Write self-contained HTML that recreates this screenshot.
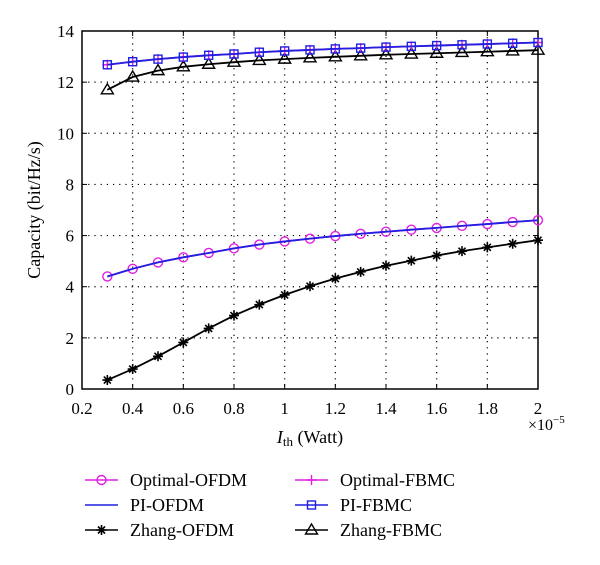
<!DOCTYPE html>
<html><head><meta charset="utf-8"><style>
body{margin:0;background:#fff;}
svg{display:block;font-family:"Liberation Serif",serif;}
</style></head><body>
<svg id="c" width="600" height="565" xmlns="http://www.w3.org/2000/svg"></svg>
<script>
const xVals=[0.3,0.4,0.5,0.6,0.7,0.8,0.9,1.0,1.1,1.2,1.3,1.4,1.5,1.6,1.7,1.8,1.9,2.0];
const optOFDM=[4.4,4.7,4.95,5.15,5.32,5.5,5.65,5.77,5.88,5.98,6.07,6.15,6.23,6.3,6.38,6.45,6.53,6.6];
const piOFDM=[4.4,4.7,4.95,5.15,5.32,5.5,5.65,5.77,5.88,5.98,6.07,6.15,6.23,6.3,6.38,6.45,6.53,6.6];
const zhangOFDM=[0.35,0.78,1.28,1.82,2.37,2.87,3.3,3.68,4.02,4.32,4.58,4.82,5.02,5.22,5.39,5.54,5.68,5.82];
const optFBMC=[12.68,12.8,12.9,12.98,13.05,13.1,13.17,13.22,13.26,13.3,13.33,13.37,13.4,13.43,13.46,13.49,13.52,13.55];
const piFBMC=[12.68,12.8,12.9,12.98,13.05,13.1,13.17,13.22,13.26,13.3,13.33,13.37,13.4,13.43,13.46,13.49,13.52,13.55];
const zhangFBMC=[11.7,12.2,12.45,12.6,12.7,12.78,12.85,12.9,12.95,12.99,13.03,13.07,13.1,13.13,13.16,13.19,13.22,13.25];
const xTicks=[0.2,0.4,0.6,0.8,1,1.2,1.4,1.6,1.8,2];
const yTicks=[0,2,4,6,8,10,12,14];

const svg=document.getElementById('c');
const NS='http://www.w3.org/2000/svg';
const L=82,R=538,T=31,B=389;
const sx=v=>L+(v-0.2)/1.8*(R-L);
const sy=v=>B-v/14*(B-T);
function mk(tag,a,parent){const e=document.createElementNS(NS,tag);for(const k in a)e.setAttribute(k,a[k]);(parent||svg).appendChild(e);return e;}

xTicks.forEach(t=>{if(t>0.2&&t<2){const g=mk('line',{x1:sx(t),x2:sx(t),y1:T,y2:B,stroke:'#000','stroke-width':1.2,'stroke-dasharray':'1.2,5'});

}});
yTicks.forEach(t=>{if(t>0&&t<14){const g=mk('line',{x1:L,x2:R,y1:sy(t),y2:sy(t),stroke:'#000','stroke-width':1.2,'stroke-dasharray':'1.2,5'});

}});
const frame=mk('rect',{x:L,y:T,width:R-L,height:B-T,fill:'none',stroke:'#000','stroke-width':1.5});


xTicks.forEach(t=>{
 mk('line',{x1:sx(t),x2:sx(t),y1:B,y2:B-5,stroke:'#000'});mk('line',{x1:sx(t),x2:sx(t),y1:T,y2:T+5,stroke:'#000'});
 const tx=mk('text',{x:sx(t),y:B+25,'text-anchor':'middle','font-size':17});tx.textContent=String(t);
 
 
});
yTicks.forEach(t=>{
 mk('line',{x1:L,x2:L+5,y1:sy(t),y2:sy(t),stroke:'#000'});mk('line',{x1:R,x2:R-5,y1:sy(t),y2:sy(t),stroke:'#000'});
 const tx=mk('text',{x:L-8,y:sy(t)+6,'text-anchor':'end','font-size':17});tx.textContent=String(t);
 
 
});
const ex=mk('text',{x:528,y:430,'font-size':16});ex.innerHTML='×10<tspan dy="-7" font-size="11">−5</tspan>';


const xt=mk('text',{x:310,y:443,'text-anchor':'middle','font-size':18});xt.innerHTML='<tspan font-style="italic">I</tspan><tspan font-size="13" dy="3">th</tspan><tspan dy="-3"> (Watt)</tspan>';


const yt=mk('text',{x:0,y:0,'text-anchor':'middle','font-size':18,transform:'translate(40,210) rotate(-90)'});yt.textContent='Capacity (bit/Hz/s)';



function marker(g,type,x,y,color){
 if(type==='circle')mk('circle',{cx:x,cy:y,r:4.5,fill:'none',stroke:color,'stroke-width':1.4},g);
 else if(type==='square')mk('rect',{x:x-4,y:y-4,width:8,height:8,fill:'none',stroke:color,'stroke-width':1.4},g);
 else if(type==='tri')mk('path',{d:`M${x},${y-6}L${x+6},${y+4}L${x-6},${y+4}Z`,fill:'none',stroke:color,'stroke-width':1.4},g);
 else if(type==='plus')mk('path',{d:`M${x-5},${y}H${x+5}M${x},${y-5}V${y+5}`,stroke:color,'stroke-width':1.4},g);
 else if(type==='star')mk('path',{d:`M${x-5},${y}H${x+5}M${x},${y-5}V${y+5}M${x-3.5},${y-3.5}L${x+3.5},${y+3.5}M${x-3.5},${y+3.5}L${x+3.5},${y-3.5}`,stroke:color,'stroke-width':1.6},g);
}
const series=[
 ['optimal-ofdm',optOFDM,'#e020e0','circle'],
 ['zhang-ofdm',zhangOFDM,'#000','star'],
 ['zhang-fbmc',zhangFBMC,'#000','tri'],
 ['optimal-fbmc',optFBMC,'#e020e0','plus'],
 ['pi-ofdm',piOFDM,'#2020e0',null],
 ['pi-fbmc',piFBMC,'#2020e0','square'],
];
series.forEach(([name,vals,color,m])=>{
 const g=mk('g',{});
 
 
 const pts=vals.map((v,i)=>sx(xVals[i])+','+sy(v)).join(' ');
 mk('polyline',{points:pts,fill:'none',stroke:color,'stroke-width':1.8},g);
 if(m)vals.forEach((v,i)=>marker(g,m,sx(xVals[i]),sy(v),color));
});
const leg=[['Optimal-OFDM','#e020e0','circle',85,480],['PI-OFDM','#2020e0',null,85,505],['Zhang-OFDM','#000','star',85,530],
['Optimal-FBMC','#e020e0','plus',295,480],['PI-FBMC','#2020e0','square',295,505],['Zhang-FBMC','#000','tri',295,530]];
leg.forEach(([lab,color,m,x,y])=>{
 const g=mk('g',{});
 
 
 mk('line',{x1:x,x2:x+33,y1:y,y2:y,stroke:color,'stroke-width':1.6},g);
 if(m)marker(g,m,x+16.5,y,color);
 const t=mk('text',{x:x+45,y:y+6,'font-size':18},g);t.textContent=lab;
});
</script>
</body></html>
